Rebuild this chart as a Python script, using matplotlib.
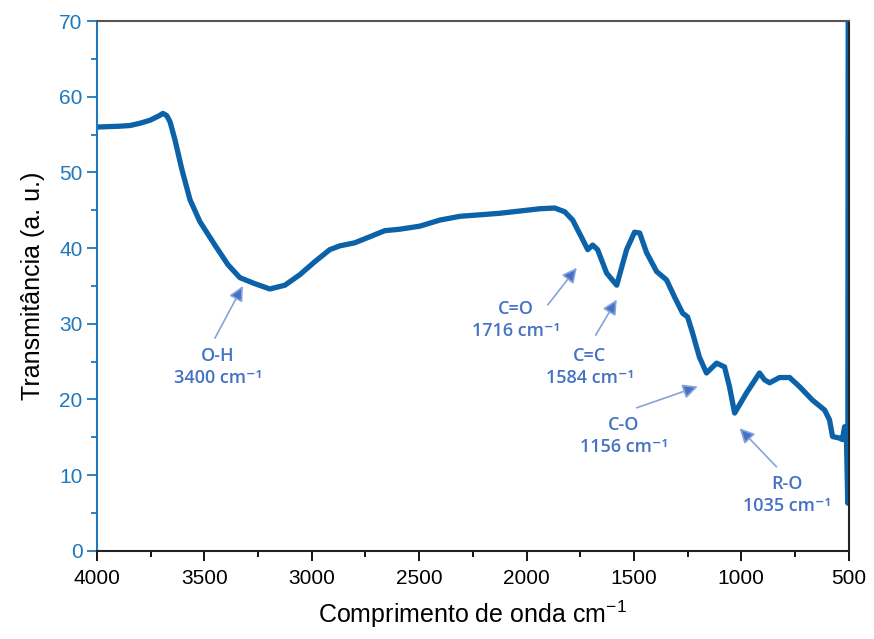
import matplotlib
matplotlib.use("Agg")
import matplotlib.pyplot as plt
from matplotlib.ticker import MultipleLocator

# FTIR spectrum, read as (wavenumber, transmittance)
wavenumber = [4000, 3900, 3846, 3800, 3753, 3710, 3693, 3675, 3660, 3637,
              3604, 3567, 3521, 3451, 3390, 3335, 3265, 3195, 3125, 3055,
              2986, 2916, 2869, 2800, 2730, 2660, 2590, 2497, 2404, 2311,
              2218, 2125, 2032, 1939, 1869, 1822, 1785, 1738, 1715, 1692,
              1669, 1627, 1580, 1534, 1497, 1473, 1441, 1394, 1348, 1310,
              1273, 1250, 1227, 1195, 1162, 1115, 1078, 1055, 1031, 1008,
              975, 915, 892, 868, 822, 775, 729, 668, 612, 589,
              575, 543, 529, 519, 510, 504, 502]
transmittance = [56.0, 56.1, 56.2, 56.5, 56.9, 57.5, 57.8, 57.5, 56.7, 54.3,
                 50.3, 46.4, 43.5, 40.4, 37.8, 36.1, 35.3, 34.6, 35.1, 36.5,
                 38.2, 39.8, 40.3, 40.7, 41.5, 42.3, 42.5, 42.9, 43.7, 44.2,
                 44.4, 44.6, 44.9, 45.2, 45.3, 44.8, 43.7, 41.1, 39.8, 40.4,
                 39.8, 36.7, 35.1, 39.8, 42.1, 42.0, 39.4, 36.9, 35.8, 33.5,
                 31.4, 30.9, 28.8, 25.6, 23.5, 24.8, 24.3, 21.7, 18.2, 19.3,
                 20.9, 23.5, 22.6, 22.2, 22.9, 22.9, 21.7, 19.9, 18.6, 17.3,
                 15.1, 14.9, 14.7, 16.4, 14.3, 6.3, 75.0]

# band labels: name, position, arrow tip, arrow tail, text centre
band_names = ["O-H", "C=O", "C=C", "C-O", "R-O"]
band_pos = [3400, 1716, 1584, 1156, 1035]
tip_xy = [(3321, 35.0), (1766, 37.4), (1580, 33.2), (1203, 21.7), (1008, 16.2)]
tail_xy = [(3451, 28.1), (1901, 32.5), (1678, 28.5), (1487, 18.9), (836, 11.1)]
text_xy = [(3437, 24.3), (2050, 30.5), (1706, 24.3), (1548, 15.2), (789, 7.4)]

line_blue = "#0b62a8"
axis_blue = "#1f78bd"
note_blue = "#4472c4"
shaft_blue = "#86a2dc"

plt.rcParams["font.family"] = ["Liberation Sans", "DejaVu Sans"]
plt.rcParams["mathtext.default"] = "regular"

fig = plt.figure(figsize=(8.74, 6.39), dpi=100)
ax = fig.add_axes([0.111, 0.138, 0.86, 0.829])

ax.plot(wavenumber, transmittance, color=line_blue, lw=3.8,
        solid_joinstyle="round", solid_capstyle="round")

ax.set_xlim(4000, 500)
ax.set_ylim(0, 70)
ax.xaxis.set_major_locator(MultipleLocator(500))
ax.xaxis.set_minor_locator(MultipleLocator(250))
ax.yaxis.set_major_locator(MultipleLocator(10))
ax.yaxis.set_minor_locator(MultipleLocator(5))

ax.tick_params(axis="both", which="major", direction="out", length=7,
               width=1.3, labelsize=15)
ax.tick_params(axis="both", which="minor", direction="out", length=4,
               width=1.3)
ax.tick_params(axis="y", which="both", colors=axis_blue, labelcolor=axis_blue)
ax.tick_params(axis="x", which="both", colors="black", pad=6)

for side in ["top", "right", "bottom"]:
    ax.spines[side].set_linewidth(1.5)
    ax.spines[side].set_color("#222222")
ax.spines["top"].set_color("#555555")
ax.spines["left"].set_color(axis_blue)
ax.spines["left"].set_linewidth(1.5)

ax.set_xlabel("Comprimento de onda cm$^{-1}$", fontsize=18, labelpad=8)
ax.set_ylabel("Transmitância (a. u.)", fontsize=18, labelpad=10)

for name, pos, tip, tail, txt in zip(band_names, band_pos, tip_xy, tail_xy, text_xy):
    ax.annotate("", xy=tip, xytext=tail,
                arrowprops=dict(arrowstyle="-|>", fc=note_blue, ec=shaft_blue,
                                lw=1.2, mutation_scale=22, shrinkA=0, shrinkB=0))
    ax.text(txt[0], txt[1], f"{name}\n{pos} cm⁻¹", ha="center", va="center",
            color=note_blue, fontsize=13, fontweight="semibold",
            family=["Open Sans", "DejaVu Sans"], linespacing=1.3)

fig.savefig("out.png", dpi=100)
